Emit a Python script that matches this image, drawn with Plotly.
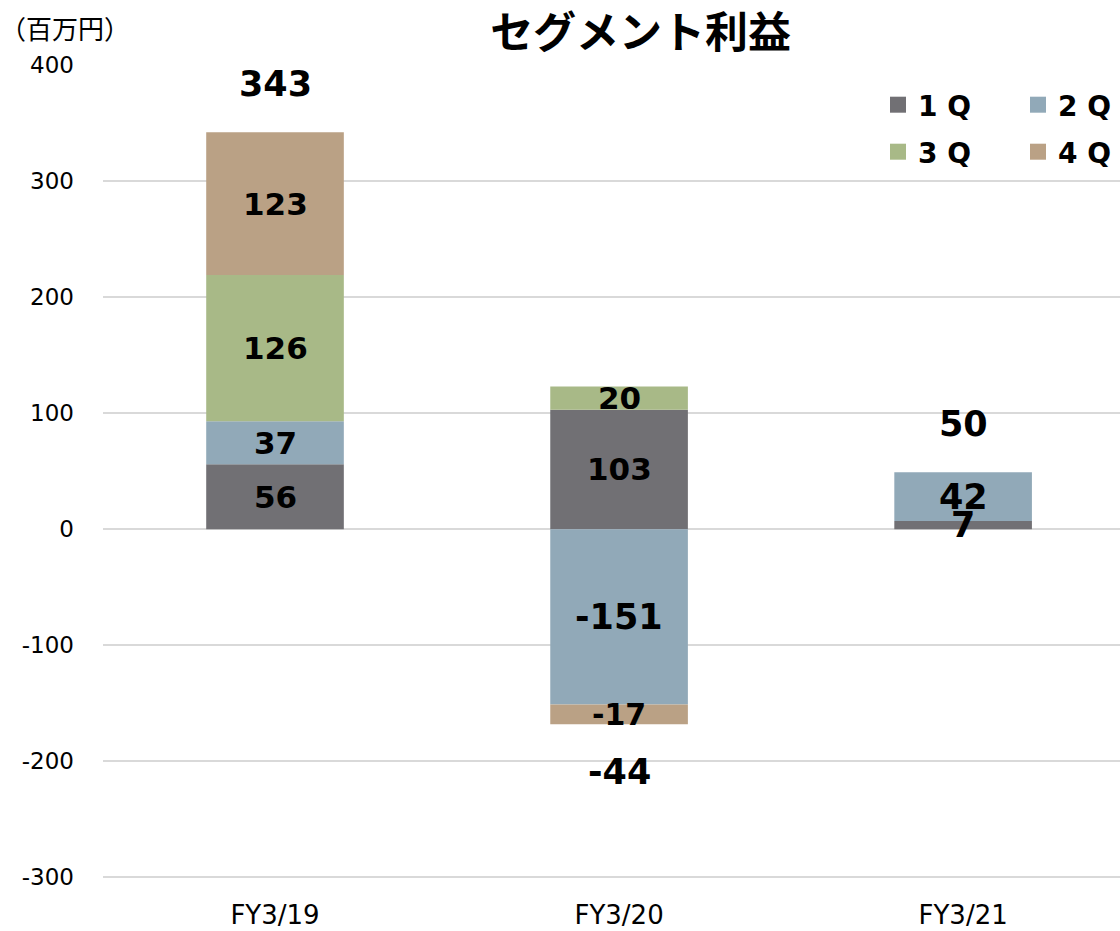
import plotly.graph_objects as go

categories = ["FY3/19", "FY3/20", "FY3/21"]
q1 = [56, 103, 7]
q2 = [37, -151, 42]
q3 = [126, 20, None]
q4 = [123, -17, None]
totals = [343, -44, 50]
series_names = ["1 Q", "2 Q", "3 Q", "4 Q"]
colors = ["#717074", "#91A9B8", "#A8B987", "#BAA185"]
tick_vals = [-300, -200, -100, 0, 100, 200, 300, 400]
tick_text = ["-300", "-200", "-100", "0", "100", "200", "300", "400"]

series = [q1, q2, q3, q4]
num_font = "DejaVu Sans, Verdana, Noto Sans CJK JP"
jp_font = "Noto Sans CJK JP, DejaVu Sans"

fig = go.Figure()
for name, vals, col in zip(series_names, series, colors):
    fig.add_trace(go.Bar(
        x=categories, y=vals, name=name, marker=dict(color=col, line=dict(width=0)),
        width=0.4, showlegend=False, hoverinfo="x+y+name",
    ))

# legend entries (two rows)
for i, (name, col) in enumerate(zip(series_names, colors)):
    fig.add_trace(go.Scatter(
        x=[None], y=[None], mode="markers", name=name,
        marker=dict(symbol="square", size=22, color=col),
        legend="legend" if i < 2 else "legend2",
    ))

# segment labels at centers of stacked segments
label_sizes = [[31, 31, 35], [31, 35, 35], [31, 31, 31], [31, 30, 31]]
pos_base = [0, 0, 0]
neg_base = [0, 0, 0]
for si, vals in enumerate(series):
    for ci, v in enumerate(vals):
        if v is None:
            continue
        if v >= 0:
            center = pos_base[ci] + v / 2
            pos_base[ci] += v
        else:
            center = neg_base[ci] + v / 2
            neg_base[ci] += v
        fig.add_annotation(
            x=categories[ci], y=center, text=str(v), showarrow=False,
            font=dict(family=num_font, size=label_sizes[si][ci], color="#000000", weight="bold"),
            xanchor="center", yanchor="middle",
        )

# totals
for ci, t in enumerate(totals):
    if t >= 0:
        y, shift = pos_base[ci], 48
    else:
        y, shift = neg_base[ci], -48
    fig.add_annotation(
        x=categories[ci], y=y, yshift=shift, text=str(t), showarrow=False,
        font=dict(family=num_font, size=35, color="#000000", weight="bold"),
        xanchor="center", yanchor="middle",
    )

fig.add_annotation(
    xref="paper", yref="paper", x=-0.103, y=1.045, text="（百万円）", showarrow=False,
    xanchor="left", yanchor="middle", font=dict(family=jp_font, size=26, color="#000000"),
)

legend_common = dict(orientation="h", xref="container", yref="container", x=878 / 1120,
                     xanchor="left", yanchor="middle",
                     entrywidth=95, entrywidthmode="pixels", bgcolor="rgba(0,0,0,0)",
                     font=dict(family=num_font, size=28, color="#000000", weight="bold"),
                     itemsizing="trace")

fig.update_layout(
    width=1120, height=931,
    paper_bgcolor="white", plot_bgcolor="white",
    barmode="relative",
    margin=dict(l=103, r=0, t=65, b=42, autoexpand=False),
    title=dict(text="セグメント利益", x=0.572, xref="container", xanchor="center",
               y=1 - 33 / 931, yanchor="middle",
               font=dict(family=jp_font, size=43, color="#000000", weight="bold")),
    legend=dict(legend_common, y=1 - 105 / 931),
    legend2=dict(legend_common, y=1 - 152 / 931),
    xaxis=dict(range=[-0.5, 2.456], showgrid=False, showline=False, ticks="",
               tickfont=dict(family=num_font, size=26, color="#000000"),
               ticklabelstandoff=8),
    yaxis=dict(range=[-310, 400], tickvals=tick_vals, ticktext=tick_text,
               showgrid=True, gridcolor="#D9D9D9",
               gridwidth=2, zeroline=True, zerolinecolor="#D9D9D9", zerolinewidth=2,
               showline=False, ticks="", ticklabelstandoff=28,
               tickfont=dict(family=num_font, size=23, color="#000000")),
)

fig.write_html("out.html", config={"displayModeBar": False},
               post_script="document.body.style.margin='0';document.body.style.overflow='hidden';")
